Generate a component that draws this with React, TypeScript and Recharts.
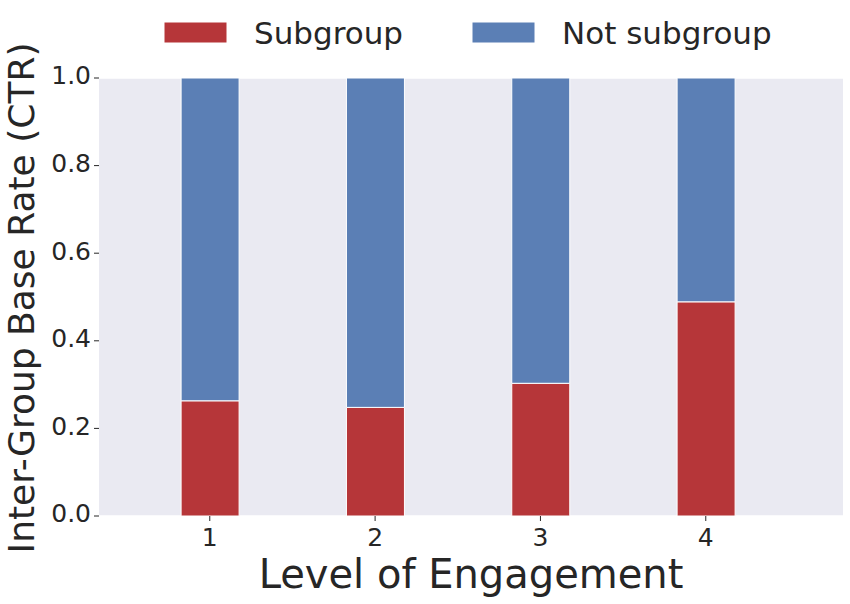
import { BarChart, Bar, XAxis, YAxis, CartesianGrid } from "recharts";

const levels = [1, 2, 3, 4];
const subgroup = [0.263, 0.248, 0.303, 0.489];
const notSubgroup = [0.737, 0.752, 0.697, 0.511];
const yTicks = [0, 0.2, 0.4, 0.6, 0.8, 1.0];

const seriesNames = ["Subgroup", "Not subgroup"];
const seriesColors = ["#b63639", "#5b7fb5"];

const data = levels.map((lvl, i) => ({
  level: lvl,
  sub: subgroup[i],
  notSub: notSubgroup[i],
}));

const FONT = "DejaVu Sans";
const TEXT = "#262626";

function YLabel(props: any) {
  const vb = props.viewBox ?? { x: 0, y: 78, width: 99, height: 438 };
  const cx = 34;
  const cy = vb.y + vb.height / 2 + 1;
  return (
    <text
      x={cx}
      y={cy}
      transform={`rotate(-90 ${cx} ${cy})`}
      textAnchor="middle"
      fontFamily={FONT}
      fontSize={36}
      fill={TEXT}
    >
      Inter-Group Base Rate (CTR)
    </text>
  );
}

function XLabel(props: any) {
  const vb = props.viewBox ?? { x: 99, y: 516, width: 744, height: 88 };
  return (
    <text
      x={vb.x + vb.width / 2}
      y={588}
      textAnchor="middle"
      fontFamily={FONT}
      fontSize={40}
      fill={TEXT}
    >
      Level of Engagement
    </text>
  );
}

// legend drawn as plain svg, laid out like matplotlib's top legend
const legendX = [164, 472];

export default function App() {
  return (
    <div style={{ position: "absolute", left: 0, top: 0, background: "#fff" }}>
      <BarChart
        width={850}
        height={604}
        data={data}
        margin={{ top: 78, right: 7, bottom: 0, left: 0 }}
      >
        <CartesianGrid
          fill="#eaeaf2"
          stroke="#ffffff"
          strokeWidth={1.5}
          vertical={false}
        />
        <XAxis
          xAxisId="bottom"
          dataKey="level"
          type="number"
          domain={[0.33, 4.83]}
          allowDataOverflow
          ticks={levels}
          height={88}
          axisLine={false}
          tickSize={5}
          tickMargin={7}
          tickLine={{ stroke: TEXT }}
          tick={{ fontFamily: FONT, fontSize: 25, fill: TEXT }}
          label={<XLabel />}
        />
        <XAxis
          xAxisId="top"
          orientation="top"
          dataKey="level"
          type="number"
          domain={[0.33, 4.83]}
          allowDataOverflow
          ticks={levels}
          height={0}
          axisLine={false}
          tickSize={5}
          tickLine={{ stroke: TEXT }}
          tickFormatter={() => ""}
        />
        <YAxis
          yAxisId="left"
          domain={[0, 1]}
          ticks={yTicks}
          width={99}
          axisLine={false}
          tickSize={5}
          tickMargin={3}
          tickLine={{ stroke: TEXT }}
          tick={{ fontFamily: FONT, fontSize: 25, fill: TEXT, dy: -2.5 }}
          tickFormatter={(v) => Number(v).toFixed(1)}
          label={<YLabel />}
        />
        <YAxis
          yAxisId="right"
          orientation="right"
          domain={[0, 1]}
          ticks={yTicks}
          width={0}
          axisLine={false}
          tickSize={5}
          tickLine={{ stroke: TEXT }}
          tickFormatter={() => ""}
        />
        <Bar
          xAxisId="bottom"
          yAxisId="left"
          dataKey="sub"
          stackId="a"
          barSize={58}
          fill={seriesColors[0]}
          stroke="#ffffff"
          strokeWidth={1}
          isAnimationActive={false}
        />
        <Bar
          xAxisId="bottom"
          yAxisId="left"
          dataKey="notSub"
          stackId="a"
          barSize={58}
          fill={seriesColors[1]}
          stroke="#ffffff"
          strokeWidth={1}
          isAnimationActive={false}
        />
        <g>
          {seriesNames.map((name, i) => (
            <g key={name}>
              <rect
                x={legendX[i]}
                y={22}
                width={63}
                height={21}
                fill={seriesColors[i]}
                stroke="#ffffff"
                strokeWidth={1}
              />
              <text
                x={legendX[i] + 90}
                y={43.5}
                fontFamily={FONT}
                fontSize={31}
                fill={TEXT}
              >
                {name}
              </text>
            </g>
          ))}
        </g>
      </BarChart>
    </div>
  );
}
